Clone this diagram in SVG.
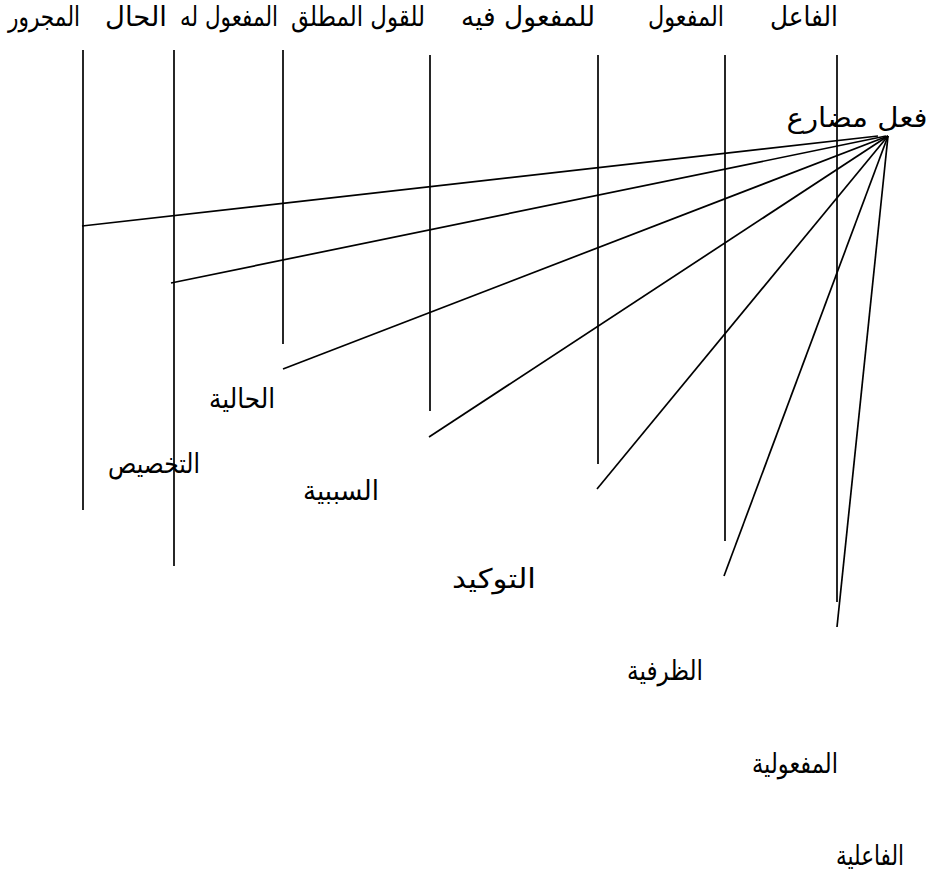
<svg xmlns="http://www.w3.org/2000/svg" width="937" height="880" viewBox="0 0 937 880">
<style>
.t{font-family:"DejaVu Sans",sans-serif;font-size:27px;fill:#000;text-anchor:middle}
.c line{stroke:#000;stroke-width:1.7;fill:none}
</style>
<rect width="937" height="880" fill="#fff"/>
<g id="connectors" class="c">
<line x1="83" y1="50" x2="83" y2="510"/>
<line x1="174" y1="50" x2="174" y2="566"/>
<line x1="283" y1="50" x2="283" y2="344"/>
<line x1="430" y1="55" x2="430" y2="411"/>
<line x1="598" y1="55" x2="598" y2="464"/>
<line x1="725" y1="55" x2="725" y2="541"/>
<line x1="837" y1="55" x2="837" y2="602"/>
<line x1="878" y1="136" x2="82" y2="226"/>
<line x1="886" y1="136" x2="171" y2="283"/>
<line x1="888" y1="136" x2="283" y2="369"/>
<line x1="888" y1="136" x2="429" y2="437"/>
<line x1="888" y1="136" x2="597" y2="489"/>
<line x1="888" y1="136" x2="724" y2="576"/>
<line x1="888" y1="136" x2="837" y2="627"/>
</g>
<g id="n-majrur"><text class="t" x="44" y="26" textLength="72" lengthAdjust="spacingAndGlyphs">المجرور</text></g>
<g id="n-hal"><text class="t" x="136" y="26" textLength="62" lengthAdjust="spacingAndGlyphs">الحال</text></g>
<g id="n-mafulLahu"><text class="t" x="229" y="26" textLength="98" lengthAdjust="spacingAndGlyphs">المفعول له</text></g>
<g id="n-qawlMutlaq"><text class="t" x="358" y="26" textLength="134" lengthAdjust="spacingAndGlyphs">للقول المطلق</text></g>
<g id="n-mafulFihi"><text class="t" x="528" y="26" textLength="134" lengthAdjust="spacingAndGlyphs">للمفعول فيه</text></g>
<g id="n-maful"><text class="t" x="686" y="26" textLength="76" lengthAdjust="spacingAndGlyphs">المفعول</text></g>
<g id="n-fail"><text class="t" x="804" y="26" textLength="68" lengthAdjust="spacingAndGlyphs">الفاعل</text></g>
<g id="n-fil"><text class="t" x="857" y="127" textLength="141" lengthAdjust="spacingAndGlyphs">فعل مضارع</text></g>
<g id="n-takhsis"><text class="t" x="154" y="473" textLength="92" lengthAdjust="spacingAndGlyphs">التخصيص</text></g>
<g id="n-haliyya"><text class="t" x="242" y="408" textLength="66" lengthAdjust="spacingAndGlyphs">الحالية</text></g>
<g id="n-sababiyya"><text class="t" x="341" y="500" textLength="76" lengthAdjust="spacingAndGlyphs">السببية</text></g>
<g id="n-tawkid"><text class="t" x="494" y="588" textLength="84" lengthAdjust="spacingAndGlyphs">التوكيد</text></g>
<g id="n-zarfiyya"><text class="t" x="665" y="680" textLength="76" lengthAdjust="spacingAndGlyphs">الظرفية</text></g>
<g id="n-mafuliyya"><text class="t" x="795" y="773" textLength="86" lengthAdjust="spacingAndGlyphs">المفعولية</text></g>
<g id="n-failiyya"><text class="t" x="870" y="865" textLength="68" lengthAdjust="spacingAndGlyphs">الفاعلية</text></g>
</svg>
